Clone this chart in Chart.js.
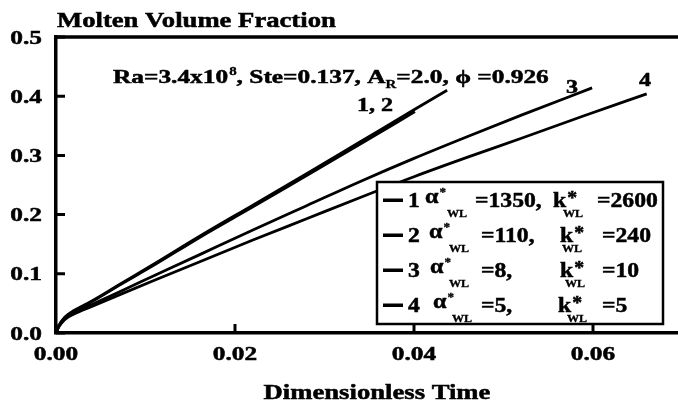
<!DOCTYPE html>
<html>
<head>
<meta charset="utf-8">
<script src="https://cdn.jsdelivr.net/npm/chart.js@4.4.1/dist/chart.umd.min.js"></script>
<style>
  html, body { margin: 0; padding: 0; background: #fff; overflow: hidden; }
</style>
</head>
<body>
<canvas id="melt" width="690" height="410"></canvas>
<script>
// dimensionless time / molten volume fraction for each case
const time1 = [0, 0.0003, 0.001, 0.002, 0.004, 0.007, 0.011, 0.016, 0.022, 0.028, 0.034, 0.040, 0.0437];
const frac1 = [0, 0.012, 0.027, 0.038, 0.054, 0.081, 0.117, 0.163, 0.216, 0.269, 0.323, 0.377, 0.410];
const time2 = [0, 0.0003, 0.001, 0.002, 0.004, 0.007, 0.011, 0.016, 0.022, 0.028, 0.034, 0.0401];
const frac2 = [0, 0.011, 0.026, 0.037, 0.053, 0.080, 0.115, 0.161, 0.213, 0.266, 0.319, 0.374];
const time3 = [0, 0.0003, 0.001, 0.002, 0.004, 0.007, 0.011, 0.016, 0.022, 0.028, 0.034, 0.040, 0.046, 0.052, 0.0599];
const frac3 = [0, 0.011, 0.025, 0.034, 0.048, 0.069, 0.097, 0.132, 0.174, 0.215, 0.256, 0.295, 0.332, 0.368, 0.414];
const time4 = [0, 0.0003, 0.001, 0.002, 0.004, 0.007, 0.011, 0.016, 0.022, 0.028, 0.034, 0.040, 0.046, 0.052, 0.059, 0.066];
const frac4 = [0, 0.010, 0.023, 0.032, 0.045, 0.064, 0.089, 0.120, 0.157, 0.193, 0.229, 0.264, 0.297, 0.329, 0.367, 0.404];

const caseNames = ["1", "2", "3", "4"];
const alphaWL = ["1350,", "110,", "8,", "5,"];
const kWL = ["2600", "240", "10", "5"];

const xTickLabels = ["0.00", "0.02", "0.04", "0.06"];
const yTickLabels = ["0.0", "0.1", "0.2", "0.3", "0.4", "0.5"];

const SERIF = '"Liberation Serif", "Times New Roman", serif';

function pairs(xs, ys) {
  return xs.map((x, i) => ({ x: x, y: ys[i] }));
}

// bold serif text, widened horizontally by sx, with a hairline stroke for weight
function wideText(ctx, txt, x, y, size, sx, align) {
  ctx.font = "bold " + size + "px " + SERIF;
  const w = ctx.measureText(txt).width * sx;
  let left = x;
  if (align === "center") left = x - w / 2;
  if (align === "right") left = x - w;
  ctx.save();
  ctx.translate(left, y);
  ctx.scale(sx, 1);
  ctx.textAlign = "left";
  ctx.textBaseline = "alphabetic";
  ctx.lineWidth = size > 14 ? 0.5 : 0.3;
  ctx.fillText(txt, 0, 0);
  ctx.strokeText(txt, 0, 0);
  ctx.restore();
  return left + w;
}

const framePlugin = {
  id: "frame",
  afterDatasetsDraw(chart) {
    const ctx = chart.ctx;
    const area = chart.chartArea;
    const xs = chart.scales.x;
    const ys = chart.scales.y;
    ctx.save();
    ctx.fillStyle = "#000";
    ctx.strokeStyle = "#000";

    // top border
    ctx.lineWidth = 3.5;
    ctx.beginPath();
    ctx.moveTo(area.left - 1.75, area.top);
    ctx.lineTo(area.right, area.top);
    ctx.stroke();

    // legend box, drawn over the curves
    const bx = 377, by = 182, bw = 286, bh = 142;
    ctx.fillStyle = "#fff";
    ctx.fillRect(bx, by, bw, bh);
    ctx.fillStyle = "#000";
    ctx.lineWidth = 2.5;
    ctx.strokeRect(bx, by, bw, bh);

    // inward ticks
    ctx.lineWidth = 3;
    ctx.beginPath();
    yTickLabels.forEach(lbl => {
      const py = ys.getPixelForValue(Number(lbl));
      ctx.moveTo(area.left, py);
      ctx.lineTo(area.left + 9, py);
    });
    xTickLabels.forEach(lbl => {
      const px = xs.getPixelForValue(Number(lbl));
      ctx.moveTo(px, area.bottom);
      ctx.lineTo(px, area.bottom - 9);
    });
    ctx.stroke();

    // tick labels
    yTickLabels.forEach(lbl => {
      const py = ys.getPixelForValue(Number(lbl));
      wideText(ctx, lbl, 42, py + 6.5, 19.5, 1.3, "right");
    });
    xTickLabels.forEach(lbl => {
      const px = xs.getPixelForValue(Number(lbl));
      wideText(ctx, lbl, px, 360, 19.5, 1.3, "center");
    });

    // axis titles
    wideText(ctx, "Molten Volume Fraction", 57, 26.5, 20.5, 1.3, "left");
    wideText(ctx, "Dimensionless Time", 377, 399, 20.5, 1.3, "center");

    // parameter line
    let cx = 113;
    cx = wideText(ctx, "Ra=3.4x10", cx, 83, 19.5, 1.3, "left");
    cx = wideText(ctx, "8", cx + 1, 75, 11.5, 1.3, "left");
    cx = wideText(ctx, ", Ste=0.137, A", cx, 83, 19.5, 1.3, "left");
    cx = wideText(ctx, "R", cx, 88, 11.5, 1.3, "left");
    cx = wideText(ctx, "=2.0, ", cx, 83, 19.5, 1.3, "left");
    cx = wideText(ctx, "\u03d5", cx, 83, 19.5, 1.3, "left");
    wideText(ctx, " =0.926", cx, 83, 19.5, 1.3, "left");

    // curve labels
    wideText(ctx, "1, 2", 375, 111, 18.5, 1.3, "center");
    wideText(ctx, "3", 572, 93, 18.5, 1.3, "center");
    wideText(ctx, "4", 645, 86, 18.5, 1.3, "center");

    // legend rows
    const base = [207, 242, 277, 312];
    const alphaX = [425, 429, 430, 433];
    const wlX = [447, 449, 449, 452];
    const eqX = [475, 481, 481, 481];
    const kX = [553, 560, 560, 558];
    const kwlX = [563, 562, 565, 567];
    const keqX = [597, 602, 602, 602];
    caseNames.forEach((name, i) => {
      const b = base[i];
      ctx.fillRect(383, b - 8.5, 20, 3.5);
      wideText(ctx, name, 408, b, 21.5, 1.1, "left");
      const ax = wideText(ctx, "\u03b1", alphaX[i], b - 4, 22, 1.1, "left");
      wideText(ctx, "*", ax + 1, b - 11, 12, 1.1, "left");
      wideText(ctx, "WL", wlX[i], b + 10, 11, 1.1, "left");
      wideText(ctx, "=" + alphaWL[i], eqX[i], b, 21.5, 1.1, "left");
      const kx = wideText(ctx, "k", kX[i], b, 21.5, 1.1, "left");
      wideText(ctx, "*", kx + 1, b - 3, 18, 1.1, "left");
      wideText(ctx, "WL", kwlX[i], b + 10, 11, 1.1, "left");
      wideText(ctx, "=" + kWL[i], keqX[i], b, 21.5, 1.1, "left");
    });

    ctx.restore();
  }
};

const series = [
  pairs(time1, frac1),
  pairs(time2, frac2),
  pairs(time3, frac3),
  pairs(time4, frac4)
];

const ctx = document.getElementById("melt").getContext("2d");
new Chart(ctx, {
  type: "line",
  data: {
    datasets: series.map((pts, i) => ({
      label: caseNames[i],
      data: pts,
      borderColor: "#000",
      borderWidth: 2.8,
      pointRadius: 0,
      fill: false,
      cubicInterpolationMode: "monotone"
    }))
  },
  options: {
    responsive: false,
    animation: false,
    devicePixelRatio: 1,
    layout: { padding: { left: 56, top: 37, right: 7.5, bottom: 77 } },
    plugins: {
      legend: { display: false },
      tooltip: { enabled: false }
    },
    scales: {
      x: {
        type: "linear",
        min: 0,
        max: 0.07,
        ticks: { display: false, stepSize: 0.02, includeBounds: false },
        grid: { display: false },
        border: { display: true, color: "#000", width: 3.5 },
        afterFit: s => { s.height = 0; }
      },
      y: {
        min: 0,
        max: 0.5,
        ticks: { display: false, stepSize: 0.1 },
        grid: { display: false },
        border: { display: true, color: "#000", width: 3.5 },
        afterFit: s => { s.width = 0; }
      }
    }
  },
  plugins: [framePlugin]
});
</script>
</body>
</html>
